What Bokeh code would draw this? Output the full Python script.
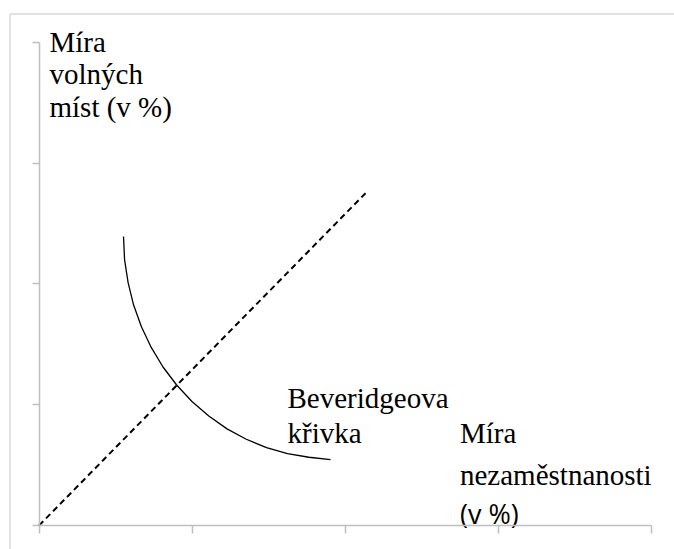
from bokeh.plotting import figure
from bokeh.models import LinearAxis, FixedTicker, Range1d
from bokeh.core.properties import value
from bokeh.embed import file_html
from bokeh.resources import INLINE

# ---- data (axis units: 4 intervals on each axis) ----
x_ticks = [0, 1, 2, 3, 4]
y_ticks = [0, 1, 2, 3, 4]

# Beveridge curve
curve_u = [0.552, 0.559, 0.582, 0.618, 0.669, 0.733, 0.810, 0.899, 0.999, 1.109,
           1.228, 1.354, 1.486, 1.623, 1.763, 1.904]
curve_v = [2.392, 2.200, 2.010, 1.825, 1.645, 1.474, 1.312, 1.163, 1.026, 0.906,
           0.800, 0.714, 0.645, 0.595, 0.565, 0.546]

# dashed line from origin
dash_u = [0.0, 2.133]
dash_v = [0.0, 2.751]

y_label_lines = ["Míra", "volných", "míst (v %)"]
curve_label_lines = ["Beveridgeova", "křivka"]
x_label_lines = ["Míra", "nezaměstnanosti"]
x_label_last = "(v %)"

# ---- layout helpers (page pixels -> data) ----
X0, PX_X = 38.5, 153.1    # page x of data 0, px per unit
Y0, PX_Y = 525.0, 120.8   # page y of data 0, px per unit
OX, OY = 0, 0             # page position of the figure
TXT_SHIFT = 9             # baseline correction for text


def dx(px):
    return (px - X0) / PX_X


def dy(py):
    return (Y0 - py) / PX_Y


def ty(py):
    return dy(py - TXT_SHIFT)


W, H = 674, 549
p = figure(width=W, height=H, output_backend="svg", toolbar_location=None,
           x_axis_type=None, y_axis_type=None,
           x_range=Range1d(dx(OX), dx(OX + W)), y_range=Range1d(dy(OY + H), dy(OY)),
           min_border=0, min_border_left=0, min_border_right=0,
           min_border_top=0, min_border_bottom=0)
p.outline_line_color = None
p.background_fill_color = "white"
p.border_fill_color = "white"

# chart-area border (left and top edges)
p.segment(x0=[dx(9.5), dx(9.5)], y0=[dy(13.5), dy(13.5)],
          x1=[dx(9.5), dx(700)], y1=[dy(700), dy(13.5)],
          line_color="#d9d9d9", line_width=1.5)

axis_color = "#bfbfbf"
xa = LinearAxis(fixed_location=0, bounds=(0, 4), ticker=FixedTicker(ticks=x_ticks))
ya = LinearAxis(fixed_location=0, bounds=(0, 4), ticker=FixedTicker(ticks=y_ticks))
for a in (xa, ya):
    a.axis_line_color = axis_color
    a.axis_line_width = 1.5
    a.major_tick_line_color = axis_color
    a.major_tick_line_width = 1.5
    a.major_tick_in = 0
    a.minor_tick_line_color = None
    a.major_label_text_font_size = "0px"
    a.major_label_text_color = None
xa.major_tick_out = 8
ya.major_tick_out = 7
p.add_layout(xa, "below")
p.add_layout(ya, "left")

# dashed line and curve
p.line(dash_u, dash_v, line_color="black", line_width=2, line_dash="6 4")
p.line(curve_u, curve_v, line_color="black", line_width=1.3)

serif = value("Liberation Serif")
fs = "29px"

p.text(x=[dx(49)] * 3, y=[ty(50), ty(82.5), ty(115)], text=y_label_lines,
       text_font=serif, text_font_size=fs, text_color="black",
       text_align="left", text_baseline="alphabetic")
p.text(x=[dx(287)] * 2, y=[ty(406.7), ty(441.7)], text=curve_label_lines,
       text_font=serif, text_font_size=fs, text_color="black",
       text_align="left", text_baseline="alphabetic")
p.text(x=[dx(459.5)] * 2, y=[ty(441.7), ty(483)], text=x_label_lines,
       text_font=serif, text_font_size=fs, text_color="black",
       text_align="left", text_baseline="alphabetic")
p.text(x=[dx(459.5)], y=[ty(521.7)], text=[x_label_last],
       text_font=value("Open Sans"), text_font_size="27px", text_color="black",
       text_align="left", text_baseline="alphabetic")

open("out.html", "w").write(file_html(p, INLINE))
